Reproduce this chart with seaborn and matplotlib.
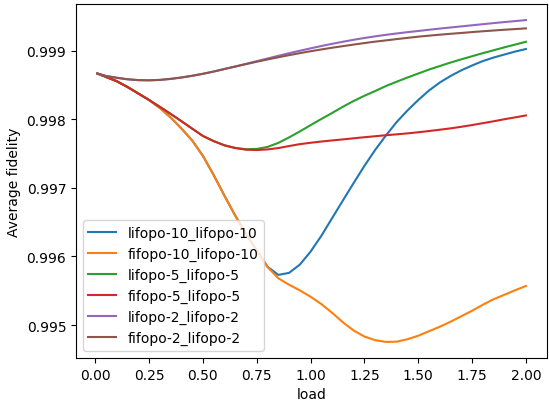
import matplotlib
matplotlib.use("Agg")
import matplotlib.pyplot as plt
import seaborn as sns
import pandas as pd

load = [0.01, 0.05, 0.10, 0.15, 0.20, 0.25, 0.30, 0.35, 0.40, 0.45,
        0.50, 0.55, 0.60, 0.65, 0.70, 0.75, 0.80, 0.85, 0.90, 0.95,
        1.00, 1.05, 1.10, 1.15, 1.20, 1.25, 1.30, 1.35, 1.40, 1.45,
        1.50, 1.55, 1.60, 1.65, 1.70, 1.75, 1.80, 1.85, 1.90, 1.95, 2.00]

lifopo_10 = [0.998665, 0.998615, 0.998553, 0.998468, 0.998374, 0.998279, 0.998163, 0.998025, 0.997865, 0.997690,
             0.997465, 0.997185, 0.996885, 0.996595, 0.996330, 0.996085, 0.995850, 0.995730, 0.995760, 0.995880,
             0.996070, 0.996300, 0.996558, 0.996815, 0.997070, 0.997319, 0.997552, 0.997763, 0.997959, 0.998127,
             0.998279, 0.998418, 0.998534, 0.998629, 0.998712, 0.998782, 0.998847, 0.998898, 0.998942, 0.998985, 0.999022]
fifopo_10 = [0.998665, 0.998615, 0.998553, 0.998468, 0.998374, 0.998279, 0.998163, 0.998025, 0.997865, 0.997690,
             0.997465, 0.997185, 0.996885, 0.996595, 0.996330, 0.996085, 0.995845, 0.995681, 0.995587, 0.995505,
             0.995412, 0.995305, 0.995178, 0.995040, 0.994920, 0.994832, 0.994779, 0.994754, 0.994757, 0.994793,
             0.994844, 0.994910, 0.994975, 0.995048, 0.995128, 0.995208, 0.995296, 0.995376, 0.995441, 0.995507, 0.995569]
lifopo_5 = [0.998665, 0.998615, 0.998553, 0.998468, 0.998374, 0.998279, 0.998180, 0.998077, 0.997971, 0.997862,
            0.997755, 0.997680, 0.997620, 0.997582, 0.997562, 0.997566, 0.997595, 0.997654, 0.997734, 0.997821,
            0.997913, 0.998003, 0.998090, 0.998181, 0.998265, 0.998341, 0.998410, 0.998483, 0.998546, 0.998607,
            0.998665, 0.998723, 0.998774, 0.998825, 0.998872, 0.998917, 0.998962, 0.999004, 0.999047, 0.999087, 0.999128]
fifopo_5 = [0.998665, 0.998615, 0.998553, 0.998468, 0.998374, 0.998279, 0.998180, 0.998077, 0.997971, 0.997862,
            0.997755, 0.997680, 0.997618, 0.997578, 0.997555, 0.997550, 0.997559, 0.997579, 0.997608, 0.997636,
            0.997656, 0.997674, 0.997690, 0.997705, 0.997721, 0.997737, 0.997751, 0.997766, 0.997779, 0.997793,
            0.997809, 0.997827, 0.997846, 0.997866, 0.997889, 0.997914, 0.997942, 0.997969, 0.997999, 0.998026, 0.998054]
lifopo_2 = [0.998665, 0.998629, 0.998603, 0.998581, 0.998569, 0.998566, 0.998572, 0.998587, 0.998607, 0.998632,
            0.998661, 0.998694, 0.998731, 0.998767, 0.998806, 0.998845, 0.998884, 0.998923, 0.998961, 0.998997,
            0.999032, 0.999066, 0.999098, 0.999128, 0.999157, 0.999183, 0.999207, 0.999229, 0.999249, 0.999268,
            0.999285, 0.999303, 0.999320, 0.999336, 0.999352, 0.999368, 0.999384, 0.999400, 0.999415, 0.999429, 0.999444]
fifopo_2 = [0.998665, 0.998629, 0.998603, 0.998581, 0.998569, 0.998566, 0.998572, 0.998587, 0.998607, 0.998632,
            0.998661, 0.998694, 0.998731, 0.998767, 0.998802, 0.998837, 0.998870, 0.998902, 0.998933, 0.998962,
            0.998990, 0.999016, 0.999041, 0.999064, 0.999087, 0.999109, 0.999130, 0.999148, 0.999167, 0.999185,
            0.999202, 0.999217, 0.999231, 0.999244, 0.999256, 0.999269, 0.999281, 0.999292, 0.999303, 0.999313, 0.999323]

series = [
    ("lifopo-10_lifopo-10", lifopo_10),
    ("fifopo-10_lifopo-10", fifopo_10),
    ("lifopo-5_lifopo-5", lifopo_5),
    ("fifopo-5_lifopo-5", fifopo_5),
    ("lifopo-2_lifopo-2", lifopo_2),
    ("fifopo-2_lifopo-2", fifopo_2),
]

frames = [pd.DataFrame({"load": load, "fidelity": vals, "policy": name})
          for name, vals in series]
df = pd.concat(frames, ignore_index=True)

fig, ax = plt.subplots(figsize=(5.49, 4.02), dpi=100)
fig.subplots_adjust(left=0.1384, right=0.997, top=0.9876, bottom=0.107)

palette = sns.color_palette("tab10", len(series))
for (name, _), color in zip(series, palette):
    sns.lineplot(data=df[df["policy"] == name], x="load", y="fidelity",
                 color=color, label=name, ax=ax, linewidth=1.5)

ax.set_xlabel("load")
ax.set_ylabel("Average fidelity")
ax.ticklabel_format(axis="y", useOffset=False)
ax.legend(loc="lower left")

fig.savefig("out.png", dpi=100)
